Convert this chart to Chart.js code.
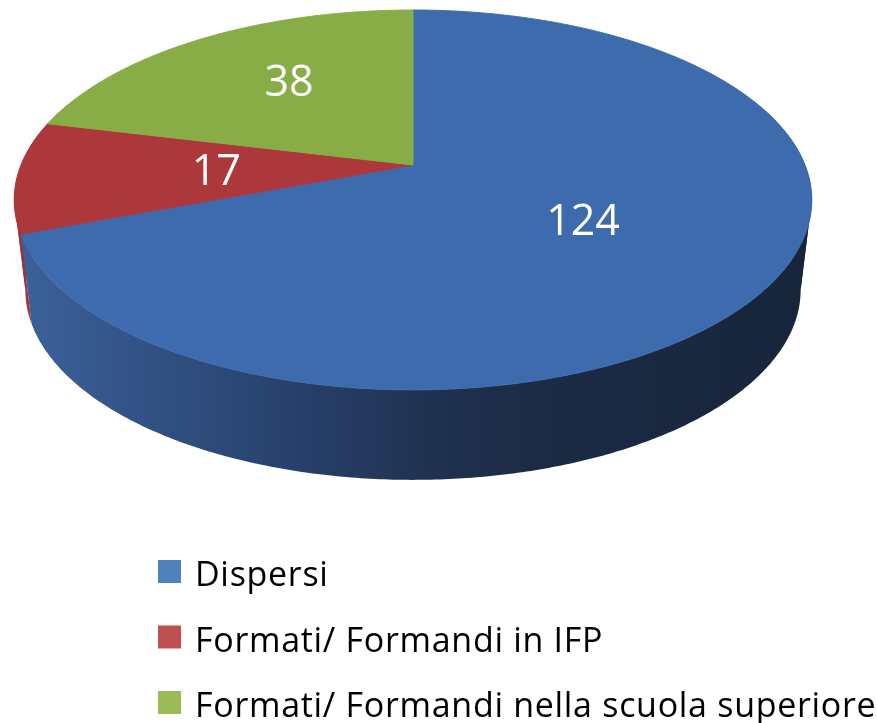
<!DOCTYPE html>
<html>
<head>
<meta charset="utf-8">
<script src="https://cdn.jsdelivr.net/npm/chart.js@4.4.1/dist/chart.umd.min.js"></script>
<style>
  html, body { margin: 0; padding: 0; background: #ffffff; }
  canvas { display: block; }
</style>
</head>
<body>
<canvas id="pieChart" width="877" height="723"></canvas>
<script>
(function () {

  /* data */
  const categories = [
    "Dispersi",
    "Formati/ Formandi in IFP",
    "Formati/ Formandi nella scuola superiore"
  ];
  const counts = [124, 17, 38];

  /* styles */
  const topColors    = ["#3d6bad", "#ad383b", "#88ad46"];
  const legendColors = ["#4f81bd", "#c0504d", "#9bbb59"];
  const labelRadius  = [0.5, 0.5, 0.61];
  const labelTurn    = [0, 0.01, 0.065];   // radians, nudges label round the slice
  const sideStops = [
    [[0, "#3c619b"], [0.23, "#2e4c7c"], [0.36, "#27406a"], [0.53, "#1f314f"], [0.66, "#1c2b45"], [1, "#17253a"]],
    [[0, "#a03436"], [0.2, "#7a2829"], [1, "#4a1616"]],
    [[0, "#6f8c38"], [1, "#3d4d1f"]]
  ];

  /* perspective geometry of the disc */
  const CX = 413, CY = 165;        // projected centre of the pie
  const RX = 392, RY = 183.5;      // half axes before perspective
  const PERSP = -0.184;            // near side grows
  const DEPTH = 90;                // thickness of the disc
  const BOTTOM_SCALE = 0.972;      // bottom rim slightly narrower
  const SIL_R = Math.asin(-PERSP); // widest points of the outline
  const SIL_L = Math.PI - SIL_R;

  function proj(u, v) {
    const d = 1 + PERSP * v;
    return [CX + RX * u / d, CY + RY * v / d];
  }

  function rim(a0, a1, bottom) {
    const pts = [];
    const n = Math.max(2, Math.ceil(Math.abs(a1 - a0) / 0.01));
    for (let i = 0; i <= n; i++) {
      const t = a0 + (a1 - a0) * i / n;
      let [x, y] = proj(Math.cos(t), Math.sin(t));
      if (bottom) {
        x = CX + (x - CX) * BOTTOM_SCALE;
        y += DEPTH;
      }
      pts.push([x, y]);
    }
    return pts;
  }

  const pie3d = {
    id: "pie3d",
    beforeDatasetsDraw(chart) {
      const ctx = chart.ctx;
      const arcs = chart.getDatasetMeta(0).data;
      const lo = -0.35, hi = Math.PI + 0.35;

      // side walls, cut at the outline's widest points; back pieces first
      const pieces = [];
      arcs.forEach((arc, i) => {
        const s = Math.max(arc.startAngle, lo);
        const e = Math.min(arc.endAngle, hi);
        if (e <= s) return;
        const cuts = [s];
        [SIL_R, SIL_L].forEach(c => { if (c > s && c < e) cuts.push(c); });
        cuts.push(e);
        for (let k = 0; k < cuts.length - 1; k++) {
          const a = cuts[k], b = cuts[k + 1];
          const front = (a + b) / 2 > SIL_R && (a + b) / 2 < SIL_L;
          pieces.push({ i, a, b, front });
        }
      });
      pieces.sort((p, q) => (p.front - q.front));
      pieces.forEach(pc => {
        const top = rim(pc.a, pc.b, false);
        const bot = rim(pc.b, pc.a, true);
        const grad = ctx.createLinearGradient(14, 0, 812, 0);
        sideStops[pc.i].forEach(st => grad.addColorStop(st[0], st[1]));
        ctx.save();
        ctx.beginPath();
        top.concat(bot).forEach((p, k) => k ? ctx.lineTo(p[0], p[1]) : ctx.moveTo(p[0], p[1]));
        ctx.closePath();
        ctx.fillStyle = grad;
        ctx.fill();
        ctx.restore();
      });

      // top faces
      arcs.forEach(arc => {
        const pts = rim(arc.startAngle, arc.endAngle, false);
        ctx.save();
        ctx.beginPath();
        const c = proj(0, 0);
        ctx.moveTo(c[0], c[1]);
        pts.forEach(p => ctx.lineTo(p[0], p[1]));
        ctx.closePath();
        ctx.fillStyle = arc.options.backgroundColor;
        ctx.strokeStyle = arc.options.backgroundColor;
        ctx.lineWidth = 1;
        ctx.fill();
        ctx.stroke();
        ctx.restore();
      });

      // value labels
      ctx.save();
      ctx.fillStyle = "#ffffff";
      ctx.font = "43px 'Open Sans'";
      ctx.textAlign = "center";
      ctx.textBaseline = "alphabetic";
      arcs.forEach((arc, i) => {
        const mid = (arc.startAngle + arc.endAngle) / 2 + labelTurn[i];
        const r = labelRadius[i];
        const p = proj(r * Math.cos(mid), r * Math.sin(mid));
        ctx.fillText(String(counts[i]), p[0], p[1] + 15);
      });
      ctx.restore();
      return false;
    },
    afterDraw(chart) {
      const ctx = chart.ctx;
      ctx.save();
      ctx.font = "34px 'Open Sans'";
      ctx.letterSpacing = "0.7px";
      ctx.textBaseline = "alphabetic";
      ctx.textAlign = "left";
      chart.data.labels.forEach((lab, i) => {
        const y = 586 + i * 65.5;
        ctx.fillStyle = legendColors[i];
        ctx.fillRect(158, y - 26, 23, 23);
        ctx.fillStyle = "#000000";
        ctx.fillText(lab, 195, y);
      });
      ctx.restore();
    }
  };

  new Chart(document.getElementById("pieChart"), {
    type: "pie",
    data: {
      labels: categories,
      datasets: [{
        data: counts,
        backgroundColor: topColors,
        borderWidth: 0
      }]
    },
    options: {
      responsive: false,
      animation: false,
      plugins: {
        legend: { display: false },
        tooltip: { enabled: false }
      }
    },
    plugins: [pie3d]
  });

})();
</script>
</body>
</html>
